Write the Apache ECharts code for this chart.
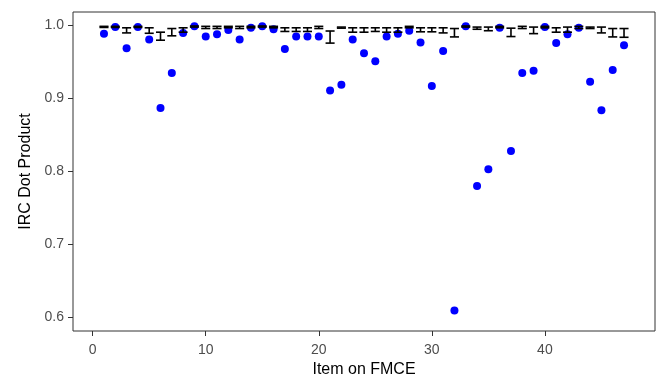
<!DOCTYPE html>
<html>
<head>
<meta charset="utf-8">
<script src="https://cdn.jsdelivr.net/npm/echarts@6/dist/echarts.min.js"></script>
<style>
  html, body { margin: 0; padding: 0; background: #fff; }
  #chart { width: 656px; height: 378px; }
</style>
</head>
<body>
<div id="chart"></div>
<script>
// item number on the FMCE
const items = [1, 2, 3, 4, 5, 6, 7, 8, 9, 10, 11, 12, 13, 14, 15, 16, 17, 18, 19, 20,
  21, 22, 23, 24, 25, 26, 27, 28, 29, 30, 31, 32, 33, 34, 35, 36, 37, 38, 39, 40,
  41, 42, 43, 44, 45, 46, 47];

// blue points: IRC dot product per item
const dotProduct = [0.989, 0.998, 0.969, 0.998, 0.981, 0.887, 0.935, 0.990, 0.999, 0.985,
  0.988, 0.994, 0.981, 0.997, 0.999, 0.995, 0.968, 0.985, 0.985, 0.985,
  0.911, 0.919, 0.981, 0.962, 0.951, 0.985, 0.989, 0.993, 0.977, 0.917,
  0.965, 0.609, 0.999, 0.780, 0.803, 0.997, 0.828, 0.935, 0.938, 0.998,
  0.976, 0.988, 0.997, 0.923, 0.884, 0.939, 0.973];

// error bars (low / high)
const barLow = [0.9975, 0.9975, 0.990, 0.9975, 0.9895, 0.980, 0.986, 0.991, 0.998, 0.996,
  0.996, 0.997, 0.996, 0.997, 0.998, 0.997, 0.992, 0.992, 0.992, 0.996,
  0.976, 0.9965, 0.991, 0.991, 0.992, 0.991, 0.991, 0.997, 0.9915, 0.9915,
  0.990, 0.9845, 0.998, 0.995, 0.993, 0.997, 0.985, 0.996, 0.989, 0.997,
  0.991, 0.991, 0.996, 0.996, 0.990, 0.9845, 0.984];
const barHigh = [0.999, 0.999, 0.997, 0.999, 0.997, 0.991, 0.996, 0.997, 0.9995, 0.999,
  0.999, 0.999, 0.999, 0.999, 0.9995, 0.999, 0.997, 0.997, 0.997, 0.999,
  0.9926, 0.998, 0.997, 0.997, 0.997, 0.997, 0.997, 0.999, 0.997, 0.997,
  0.997, 0.996, 0.9995, 0.998, 0.998, 0.999, 0.9965, 0.999, 0.998, 0.999,
  0.997, 0.998, 0.999, 0.998, 0.998, 0.996, 0.996];

const xTicks = [0, 10, 20, 30, 40];
const yTicks = [0.6, 0.7, 0.8, 0.9, 1.0];

const chart = echarts.init(document.getElementById('chart'), null, { renderer: 'canvas' });

const pointData = items.map((x, i) => [x, dotProduct[i]]);
const barData = items.map((x, i) => [x, barLow[i], barHigh[i]]);

function renderErrorBar(params, api) {
  const x = api.value(0);
  const top = api.coord([x, api.value(2)]);
  const bot = api.coord([x, api.value(1)]);
  const half = api.size([0.4, 0])[0];
  const style = { stroke: '#000', lineWidth: 1.6 };
  return {
    type: 'group',
    children: [
      { type: 'line', shape: { x1: top[0], y1: top[1], x2: bot[0], y2: bot[1] }, style },
      { type: 'line', shape: { x1: top[0] - half, y1: top[1], x2: top[0] + half, y2: top[1] }, style },
      { type: 'line', shape: { x1: bot[0] - half, y1: bot[1], x2: bot[0] + half, y2: bot[1] }, style },
    ],
  };
}

const tickLabel = { color: '#4d4d4d', fontSize: 14, fontFamily: 'Liberation Sans' };
const axisTitle = { color: '#000', fontSize: 16, fontFamily: 'Liberation Sans' };

chart.setOption({
  animation: false,
  backgroundColor: '#fff',
  grid: {
    left: 73, right: 1, top: 12, bottom: 47,
    outerBoundsMode: 'none',
    show: true, borderColor: '#333', borderWidth: 1, backgroundColor: 'transparent',
  },
  xAxis: {
    type: 'value',
    min: -1.74,
    max: 49.74,
    name: 'Item on FMCE',
    nameLocation: 'middle',
    nameGap: 30,
    nameTextStyle: axisTitle,
    axisLine: { show: false, onZero: false },
    axisTick: { show: true, customValues: xTicks, length: 5, lineStyle: { color: '#333' } },
    axisLabel: { customValues: xTicks, margin: 12, ...tickLabel },
    splitLine: { show: false },
  },
  yAxis: {
    type: 'value',
    min: 0.5808,
    max: 1.0187,
    name: 'IRC Dot Product',
    nameLocation: 'middle',
    nameGap: 38,
    nameTextStyle: axisTitle,
    axisLine: { show: false, onZero: false },
    axisTick: { show: true, customValues: yTicks, length: 5, lineStyle: { color: '#333' } },
    axisLabel: {
      customValues: yTicks, margin: 9, ...tickLabel,
      formatter: (v) => v.toFixed(1),
    },
    splitLine: { show: false },
  },
  series: [
    {
      type: 'scatter',
      data: pointData,
      symbolSize: 8,
      itemStyle: { color: '#0000ff', opacity: 1 },
      z: 2,
    },
    {
      type: 'custom',
      data: barData,
      renderItem: renderErrorBar,
      encode: { x: 0, y: [1, 2] },
      z: 3,
    },
  ],
});
</script>
</body>
</html>
